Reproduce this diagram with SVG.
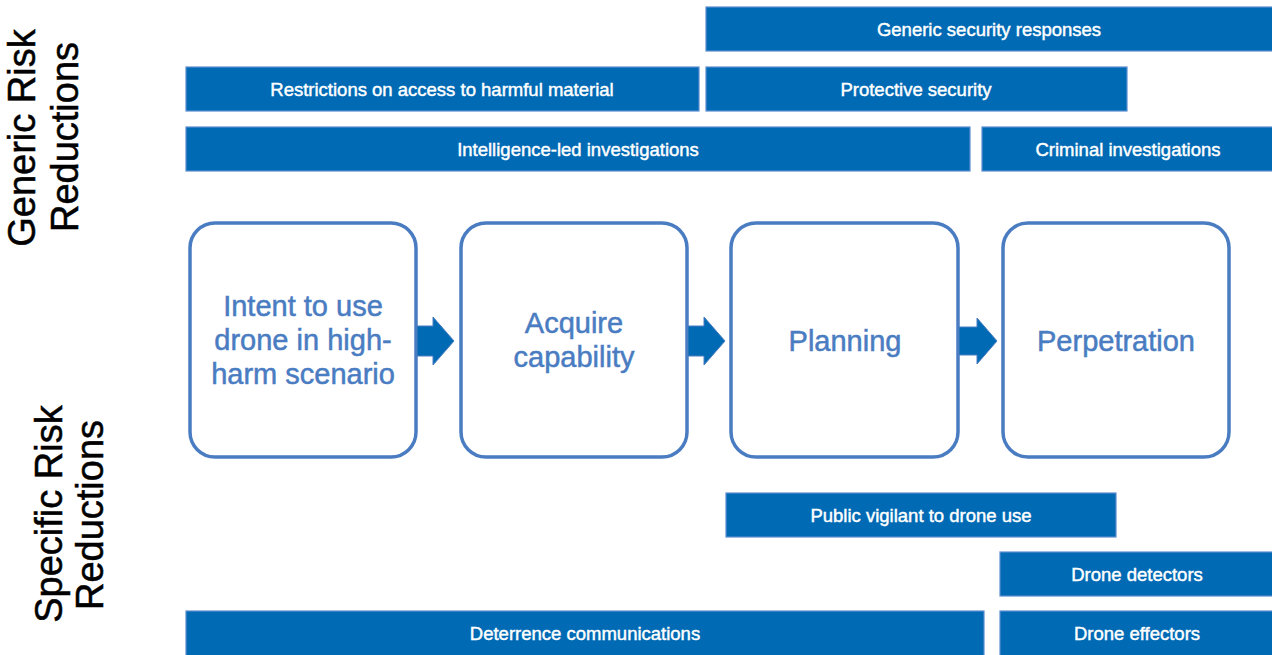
<svg xmlns="http://www.w3.org/2000/svg" width="1272" height="655" viewBox="0 0 1272 655">
<style>
.bar{fill:#006ab4;stroke:#5b8ed0;stroke-width:1.2}
.bt{font-family:"Liberation Sans",Arial,sans-serif;font-size:18.5px;fill:#ffffff;stroke:#ffffff;stroke-width:0.45;text-anchor:middle}
.node{fill:#ffffff;stroke:#4a7cc2;stroke-width:3.5}
.nt{font-family:"Liberation Sans",Arial,sans-serif;font-size:29px;fill:#4a7cc2;stroke:#4a7cc2;stroke-width:0.5;text-anchor:middle}
.ttl{font-family:"Liberation Sans",Arial,sans-serif;font-size:38px;fill:#000000;stroke:#000000;stroke-width:0.5;text-anchor:middle}
.arr{fill:#006ab4;stroke:#4a7cc2;stroke-width:1}
</style>
<rect width="1272" height="655" fill="#ffffff"/>
<g id="title-generic">
<text class="ttl" transform="translate(35,138) rotate(-90)">Generic Risk</text>
<text class="ttl" transform="translate(78,137) rotate(-90)">Reductions</text>
</g>
<g id="title-specific">
<text class="ttl" transform="translate(62,514) rotate(-90)">Specific Risk</text>
<text class="ttl" transform="translate(103,515) rotate(-90)">Reductions</text>
</g>
<g id="bar-generic-security">
<rect class="bar" x="706" y="7" width="570" height="44"/>
<text class="bt" x="989" y="36">Generic security responses</text>
</g>
<g id="bar-restrictions">
<rect class="bar" x="186" y="67" width="513" height="44"/>
<text class="bt" x="442" y="96">Restrictions on access to harmful material</text>
</g>
<g id="bar-protective">
<rect class="bar" x="706" y="67" width="421" height="44"/>
<text class="bt" x="916" y="96">Protective security</text>
</g>
<g id="bar-intelligence">
<rect class="bar" x="186" y="127" width="784" height="44"/>
<text class="bt" x="578" y="156">Intelligence-led investigations</text>
</g>
<g id="bar-criminal">
<rect class="bar" x="982" y="127" width="294" height="44"/>
<text class="bt" x="1128" y="156">Criminal investigations</text>
</g>
<g id="node-intent">
<rect class="node" x="190" y="223" width="226" height="234" rx="25"/>
<text class="nt" x="303" y="316">Intent to use</text>
<text class="nt" x="303" y="350">drone in high-</text>
<text class="nt" x="303" y="384">harm scenario</text>
</g>
<g id="node-acquire">
<rect class="node" x="461" y="223" width="226" height="234" rx="25"/>
<text class="nt" x="574" y="333">Acquire</text>
<text class="nt" x="574" y="367">capability</text>
</g>
<g id="node-planning">
<rect class="node" x="731" y="223" width="227" height="234" rx="25"/>
<text class="nt" x="845" y="351">Planning</text>
</g>
<g id="node-perpetration">
<rect class="node" x="1003" y="223" width="226" height="234" rx="25"/>
<text class="nt" x="1116" y="351">Perpetration</text>
</g>
<g id="connectors">
<polygon class="arr" points="417,326 433,326 433,317 454,341 433,365 433,356 417,356"/>
<polygon class="arr" points="688,326 704,326 704,317 725,341 704,365 704,356 688,356"/>
<polygon class="arr" points="959,327 977,327 977,318 997,341 977,364 977,355 959,355"/>
</g>
<g id="bar-public">
<rect class="bar" x="726" y="493" width="390" height="44"/>
<text class="bt" x="921" y="522">Public vigilant to drone use</text>
</g>
<g id="bar-detectors">
<rect class="bar" x="1000" y="552" width="276" height="44"/>
<text class="bt" x="1137" y="581">Drone detectors</text>
</g>
<g id="bar-deterrence">
<rect class="bar" x="186" y="611" width="798" height="48"/>
<text class="bt" x="585" y="640">Deterrence communications</text>
</g>
<g id="bar-effectors">
<rect class="bar" x="1000" y="611" width="276" height="48"/>
<text class="bt" x="1137" y="640">Drone effectors</text>
</g>
</svg>
